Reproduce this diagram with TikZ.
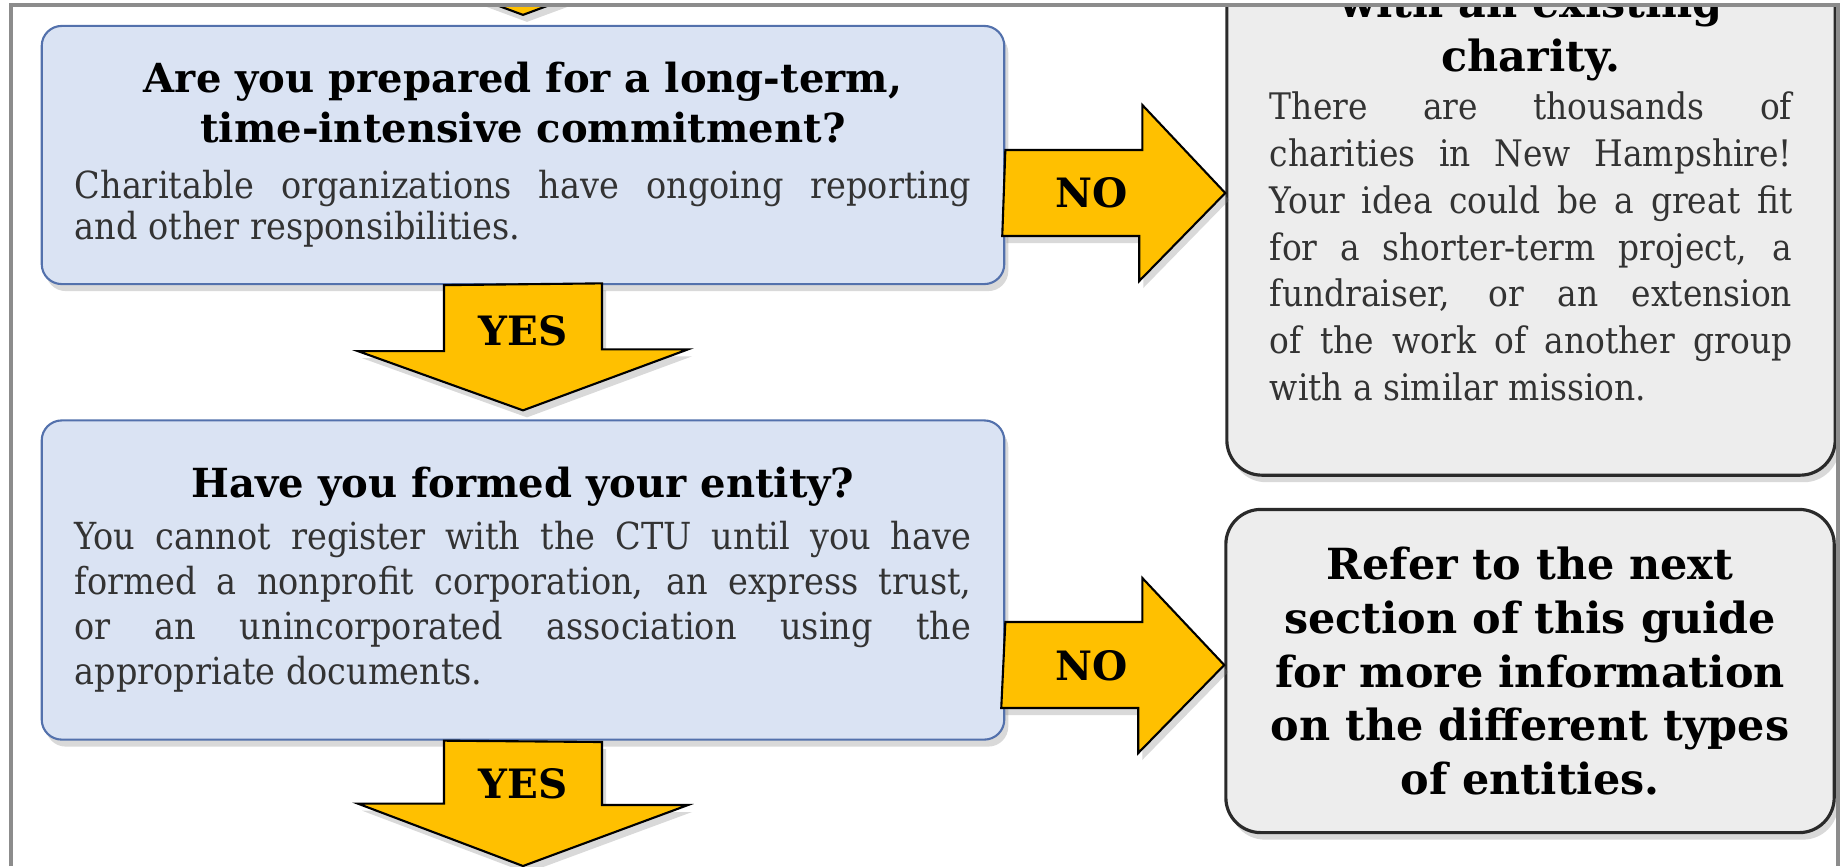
\documentclass[tikz,border=0pt]{standalone}
\usepackage{fontspec}
\setmainfont{DejaVu Serif}
\newfontfamily\condfont{DejaVu Serif Condensed}
\usepackage{tikz}
\usetikzlibrary{positioning}
\usetikzlibrary{shadows}
\definecolor{qfill}{HTML}{DAE3F3}
\definecolor{qline}{HTML}{5371AC}
\definecolor{afill}{HTML}{EDEDED}
\definecolor{aline}{HTML}{2A2A2A}
\definecolor{gold}{HTML}{FFC000}
\definecolor{framegray}{HTML}{8C8C8C}
\colorlet{bodycol}{black!80}
\newcommand{\qhead}{\fontsize{11.4}{14.2}\selectfont\bfseries\color{black}}
\newcommand{\ahead}{\fontsize{12.2}{15.3}\selectfont\bfseries\color{black}}
\newcommand{\qbody}[1]{\condfont\fontsize{10.6}{#1}\selectfont\mdseries\color{bodycol}}
\tikzset{
  softshadow/.style={drop shadow={shadow xshift=0.4mm, shadow yshift=-0.7mm, opacity=0.3}},
  question/.style={draw=qline, fill=qfill, line width=0.6pt, rounded corners=2mm,
    minimum width=9.62cm, text width=8.96cm, align=justify, softshadow},
  answer/.style={draw=aline, fill=afill, line width=0.9pt, rounded corners=3.5mm,
    minimum width=6.08cm, text width=5.22cm, align=justify, softshadow},
  fat/.style={draw=black, fill=gold, line width=0.6pt, line join=miter, softshadow},
  choice/.style={font=\fontsize{11.5}{13}\selectfont\bfseries},
}
\tolerance=9999
\hyphenpenalty=10000

\begin{document}
\begin{tikzpicture}[x=0.01cm, y=-0.01cm]
\useasboundingbox (0,0) rectangle (1840,866);

\begin{scope}
\clip (11,5) rectangle (1838,866);

% Question boxes
\node[question, minimum height=2.58cm] (q1) at (523,155)
  {{\centering\qhead Are you prepared for a long-term,\\ time-intensive commitment?\par}
   \vspace{4pt}
   \qbody{11.8pt} Charitable organizations have ongoing reporting\linebreak and other responsibilities.\par};
\node[question, minimum height=3.19cm] (q2) at (523,580)
  {{\centering\qhead Have you formed your entity?\par}
   \vspace{2pt}
   \qbody{12.8pt} You cannot register with the CTU until you have\linebreak
   formed a nonprofit corporation, an express trust,\linebreak
   or an unincorporated association using the\linebreak
   appropriate documents.\par};

% Answer boxes
\node[answer, minimum height=5.64cm] (a1) at (1531,193)
  {{\centering\ahead with an existing\\ charity.\par}
   \vspace{0.5pt}
   \qbody{13.3pt}\fontsize{10.4}{13.3}\selectfont There are thousands of\linebreak
   charities in New Hampshire!\linebreak
   Your idea could be a great fit\linebreak
   for a shorter-term project, a\linebreak
   fundraiser, or an extension\linebreak
   of the work of another group\linebreak
   with a similar mission.\par};
\node[answer, minimum height=3.23cm] (a2) at (1530,671)
  {{\centering\ahead Refer to the next\\ section of this guide\\
   for more information\\ on the different types\\ of entities.\par}};

% Arrow ends outside the frame
\coordinate (prev) at ([shift={(-79,-137)}]q1.north);
\coordinate (next) at (523,866);

% Arrows
\draw[fat] (prev) -- ++(0,66) -- ++(-86,0) -- ([shift={(0,-10)}]q1.north)
  -- ++(165,-61) -- ++(-86,0) -- ++(0,-66) -- cycle;
\draw[fat] ([shift={(0,-5)}]q1.east) -- ++(137,0) -- ++(0,-45) -- (a1.west)
  -- ++(-86,88) -- ++(0,-45) -- ++(-137,0) -- cycle;
\draw[fat] ([shift={(-79,0)}]q1.south) -- ++(0,66) -- ++(-86,0) -- ([shift={(0,-9)}]q2.north)
  -- ++(165,-61) -- ++(-86,0) -- ++(0,-66) -- cycle;
\draw[fat] ([shift={(0,42)}]q2.east) -- ++(137,0) -- ++(0,-44) -- ([shift={(0,-6)}]a2.west)
  -- ++(-86,88) -- ++(0,-45) -- ++(-137,0) -- cycle;
\draw[fat] ([shift={(-79,0)}]q2.south) -- ++(0,63) -- ++(-86,0) -- (next)
  -- ++(165,-61) -- ++(-86,0) -- ++(0,-63) -- cycle;

% Labels
\node[choice] (no1) at (1092,193) {NO};
\node[choice] (yes1) at (523,331) {YES};
\node[choice] (no2) at (1092,666) {NO};
\node[choice] (yes2) at (523,784) {YES};
\end{scope}

% Frame
\draw[framegray, line width=0.9pt] (11,866) -- (11,5) -- (1838,5) -- (1838,866);
\end{tikzpicture}
\end{document}
